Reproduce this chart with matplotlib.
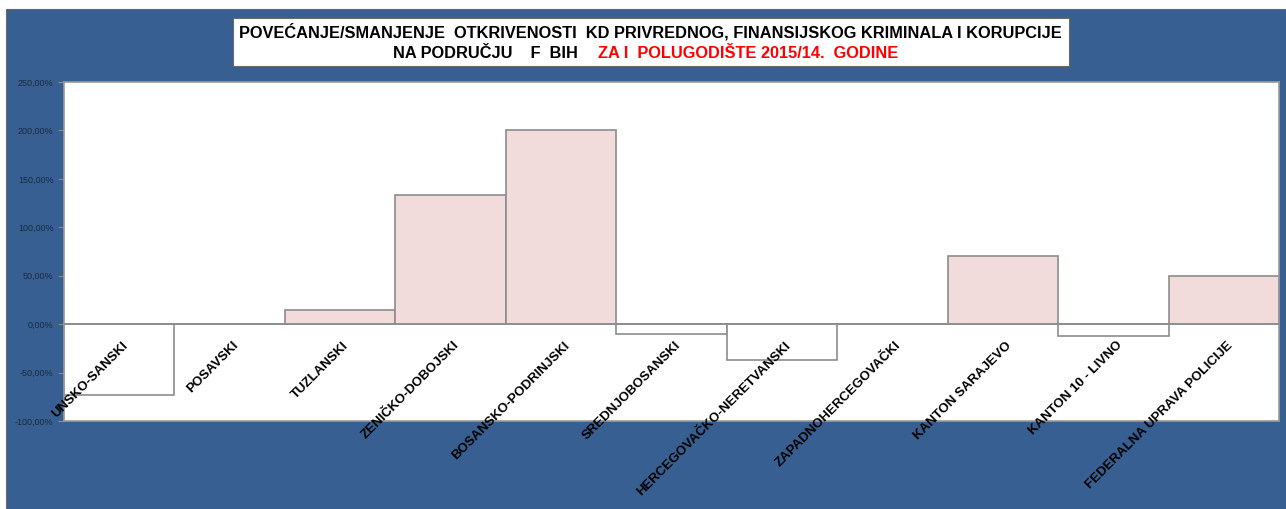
import matplotlib.pyplot as plt
import matplotlib.patches as patches
import numpy as np
from matplotlib.ticker import FuncFormatter

categories = ['UNSKO-SANSKI', 'POSAVSKI', 'TUZLANSKI', 'ZENIČKO-DOBOJSKI',
              'BOSANSKO-PODRINJSKI', 'SREDNJOBOSANSKI', 'HERCEGOVAČKO-NERETVANSKI',
              'ZAPADNOHERCEGOVAČKI', 'KANTON SARAJEVO', 'KANTON 10 - LIVNO',
              'FEDERALNA UPRAVA POLICIJE']
values = [-73.5, 0.0, 14.3, 133.3, 200.0, -10.0, -37.0, 0.0, 70.0, -12.5, 50.0]
yticks = [-100, -50, 0, 50, 100, 150, 200, 250]

W, H = 1286, 509
fig = plt.figure(figsize=(W / 100, H / 100), dpi=100)
fig.patch.set_facecolor('white')
plt.rcParams['font.family'] = ['Liberation Sans', 'DejaVu Sans']

# blue chart background
bg = patches.Rectangle((6 / W, 0), 1 - 6 / W, 1 - 9 / H, transform=fig.transFigure,
                       facecolor='#375F91', edgecolor='#6a6a6a', lw=0.8, zorder=-2)
fig.patches.append(bg)

# title box
tb = patches.Rectangle((233 / W, 1 - 66 / H), (1069 - 233) / W, 48 / H,
                       transform=fig.transFigure, facecolor='white',
                       edgecolor='#6a6a6a', lw=0.8, zorder=-1)
fig.patches.append(tb)
fig.text(650 / W, 1 - 32 / H,
         'POVEĆANJE/SMANJENJE  OTKRIVENOSTI  KD PRIVREDNOG, FINANSIJSKOG KRIMINALA I KORUPCIJE',
         ha='center', va='center', fontsize=11.8, fontweight='bold', color='black')
fig.text(578 / W, 1 - 53 / H, 'NA PODRUČJU    F  BIH', ha='right', va='center',
         fontsize=11.8, fontweight='bold', color='black')
fig.text(598 / W, 1 - 53 / H, 'ZA I  POLUGODIŠTE 2015/14.  GODINE', ha='left', va='center',
         fontsize=11.8, fontweight='bold', color='#FF0000')

ax = fig.add_axes([64 / W, 1 - 421 / H, (1279 - 64) / W, (421 - 82) / H])
ax.set_zorder(2)
ax.set_facecolor('white')
x = np.arange(len(categories))
colors = ['#F2DCDB' if v > 0 else 'white' for v in values]
ax.bar(x, values, width=1.0, color=colors, edgecolor='#8c8c8c', linewidth=1.2, zorder=2)
ax.axhline(0, color='#8c8c8c', lw=1.2, zorder=3)

ax.set_xlim(-0.5, len(categories) - 0.5)
ax.set_ylim(-100, 250)
ax.set_yticks(yticks)
ax.yaxis.set_major_formatter(FuncFormatter(lambda v, p: ('%.2f%%' % v).replace('.', ',')))
ax.tick_params(axis='y', labelsize=6.5, labelcolor='#1a2a40', color='#8c8c8c',
               length=4, direction='out', width=0.8)
ax.set_xticks([])
for s in ax.spines.values():
    s.set_color('#9a9a9a')
    s.set_linewidth(1.2)

# category labels sit next to the zero line, rotated like Excel does
for i, c in enumerate(categories):
    ax.annotate(c, xy=(i, 0), xytext=(5, -14), textcoords='offset points',
                ha='right', va='center', rotation=45, rotation_mode='anchor',
                fontsize=9.5, fontweight='bold', color='black',
                zorder=5, annotation_clip=False)

fig.savefig('out.png', dpi=100, facecolor=fig.get_facecolor())
